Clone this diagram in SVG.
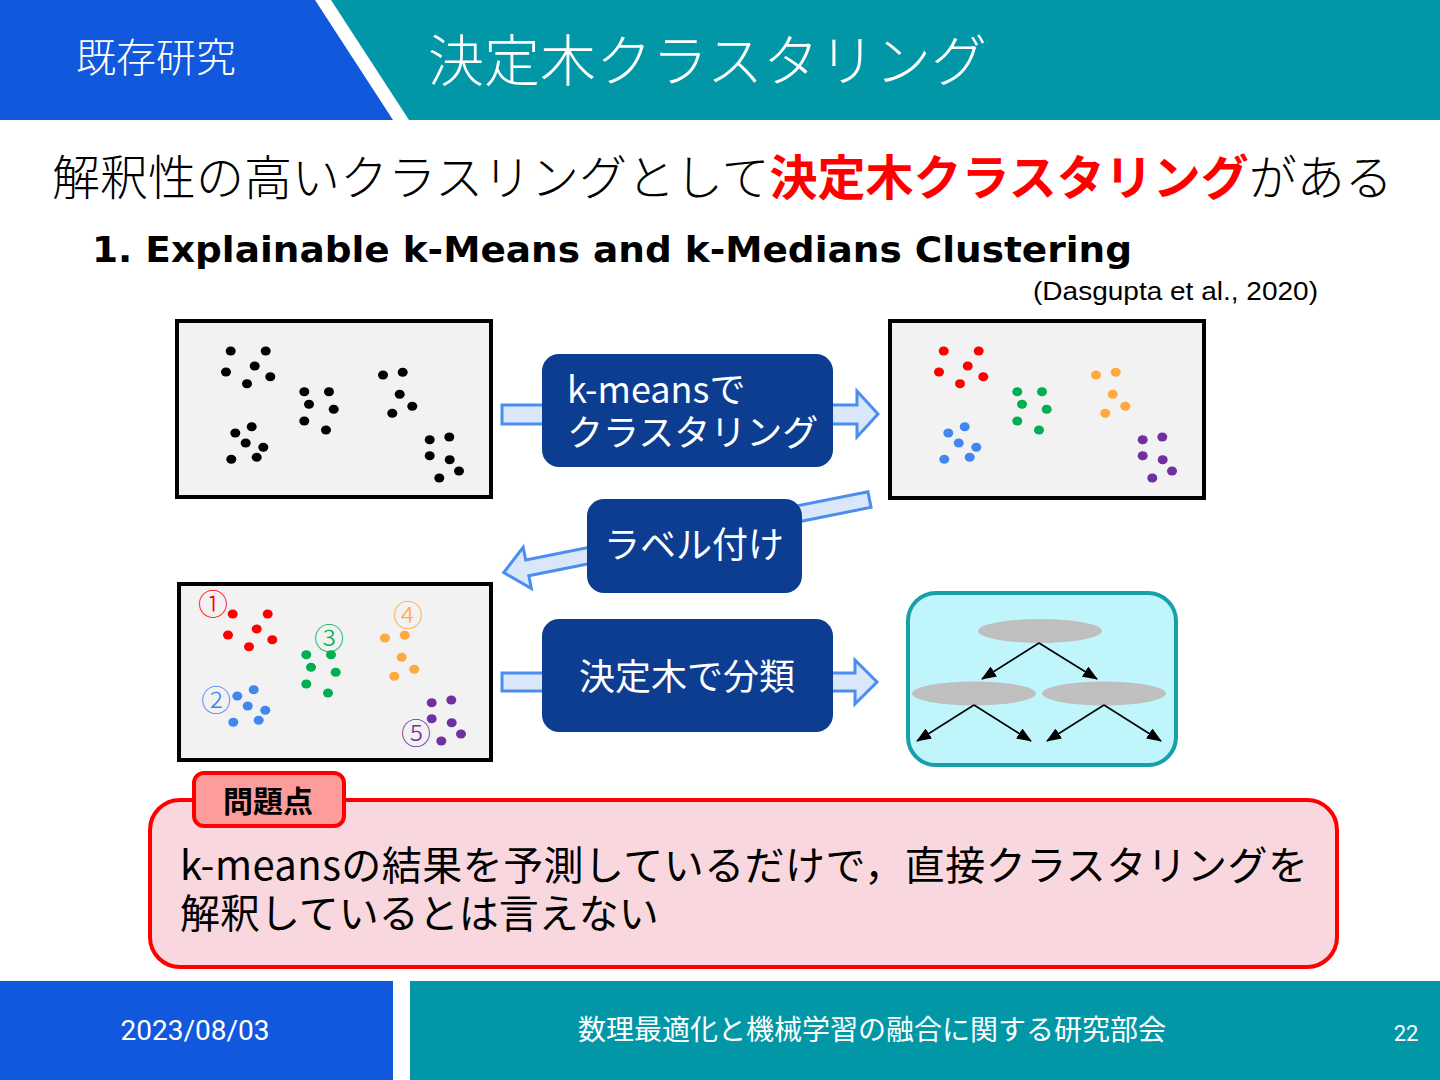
<svg xmlns="http://www.w3.org/2000/svg" width="1440" height="1080" viewBox="0 0 1440 1080">
<defs>
<style>
.jp{font-family:"Noto Sans CJK JP","Noto Sans",sans-serif;}
.w{fill:#ffffff;}
.box{fill:#f2f2f2;stroke:#000;stroke-width:4;}
.node{fill:#0c3d91;}
.barrow{fill:#dae7fb;stroke:#4a8ef0;stroke-width:3;stroke-linejoin:miter;}
.k{fill:#000;}
.r{fill:#ff0000;}
.g{fill:#00b050;}
.b{fill:#4287f0;}
.o{fill:#ffa940;}
.p{fill:#7030a0;}
.ell{fill:#bfbfbf;}
.edge{stroke:#000;stroke-width:1.6;fill:none;marker-end:url(#tri);}
</style>
<marker id="tri" markerUnits="userSpaceOnUse" markerWidth="15" markerHeight="12" refX="14" refY="6" orient="auto">
<path d="M0,0 L15,6 L0,12 z" fill="#000"/>
</marker>
</defs>
<rect width="1440" height="1080" fill="#ffffff"/>

<!-- header -->
<g id="header">
<polygon points="0,0 315,0 393,120 0,120" fill="#1158dc"/>
<polygon points="331,0 1440,0 1440,120 409,120" fill="#0197a7"/>
<text class="jp w" x="156" y="72" font-size="40" font-weight="300" text-anchor="middle">既存研究</text>
<text class="jp w" x="428" y="81" font-size="56" font-weight="300">決定木クラスタリング</text>
</g>

<g id="headline">
<text class="jp" x="52" y="195" font-size="48" font-weight="300" fill="#000">解釈性の高いクラスリングとして<tspan fill="#ff0000" font-weight="700">決定木クラスタリング</tspan>がある</text>
<text x="92" y="262" font-family="DejaVu Sans, sans-serif" font-weight="700" font-size="36" textLength="1040" lengthAdjust="spacingAndGlyphs" fill="#000">1. Explainable k-Means and k-Medians Clustering</text>
<text x="1033" y="300" font-family="Liberation Sans, Arial, sans-serif" font-size="26" textLength="285" lengthAdjust="spacingAndGlyphs" fill="#000">(Dasgupta et al., 2020)</text>
</g>

<!-- connectors -->
<g id="connectors">
<polygon class="barrow" points="502,405 857,405 857,391 878,414 857,437 857,424 502,424"/>
<polygon class="barrow" transform="translate(869.5,499.5) rotate(168.7)" points="0,-8 349,-8 349,-21 373,0 349,21 349,8 0,8"/>
<polygon class="barrow" points="502,673 855,673 855,660 877,682 855,704 855,691 502,691"/>
</g>

<!-- box 1: raw data -->
<g id="data-raw">
<rect class="box" x="177" y="321" width="314" height="176"/>
<g class="k">
<ellipse cx="230.7" cy="351" rx="5" ry="4.5"/><ellipse cx="265.7" cy="351" rx="5" ry="4.5"/><ellipse cx="226" cy="372" rx="5" ry="4.5"/><ellipse cx="254.7" cy="366" rx="5" ry="4.5"/><ellipse cx="270.3" cy="376.7" rx="5" ry="4.5"/><ellipse cx="247" cy="383.7" rx="5" ry="4.5"/>
<ellipse cx="304.3" cy="391.7" rx="5" ry="4.5"/><ellipse cx="329" cy="391.7" rx="5" ry="4.5"/><ellipse cx="309" cy="404.3" rx="5" ry="4.5"/><ellipse cx="333.7" cy="409.3" rx="5" ry="4.5"/><ellipse cx="304.3" cy="421" rx="5" ry="4.5"/><ellipse cx="326" cy="430" rx="5" ry="4.5"/>
<ellipse cx="383" cy="375" rx="5" ry="4.5"/><ellipse cx="402.7" cy="372.3" rx="5" ry="4.5"/><ellipse cx="399.7" cy="394.3" rx="5" ry="4.5"/><ellipse cx="412.3" cy="406.3" rx="5" ry="4.5"/><ellipse cx="392.3" cy="413.3" rx="5" ry="4.5"/>
<ellipse cx="251.7" cy="426.7" rx="5" ry="4.5"/><ellipse cx="235.3" cy="433" rx="5" ry="4.5"/><ellipse cx="245.7" cy="443" rx="5" ry="4.5"/><ellipse cx="263.3" cy="447.3" rx="5" ry="4.5"/><ellipse cx="231.3" cy="459.3" rx="5" ry="4.5"/><ellipse cx="256.7" cy="457.3" rx="5" ry="4.5"/>
<ellipse cx="429.7" cy="439.7" rx="5" ry="4.5"/><ellipse cx="449.3" cy="437" rx="5" ry="4.5"/><ellipse cx="429.7" cy="455.7" rx="5" ry="4.5"/><ellipse cx="449.7" cy="459.7" rx="5" ry="4.5"/><ellipse cx="459" cy="471" rx="5" ry="4.5"/><ellipse cx="439.3" cy="478" rx="5" ry="4.5"/>
</g>
</g>

<!-- box 2: clustered -->
<g id="data-clustered">
<rect class="box" x="890" y="321" width="314" height="177"/>
<g transform="translate(713,0)">
<g class="r"><ellipse cx="230.7" cy="351" rx="5" ry="4.5"/><ellipse cx="265.7" cy="351" rx="5" ry="4.5"/><ellipse cx="226" cy="372" rx="5" ry="4.5"/><ellipse cx="254.7" cy="366" rx="5" ry="4.5"/><ellipse cx="270.3" cy="376.7" rx="5" ry="4.5"/><ellipse cx="247" cy="383.7" rx="5" ry="4.5"/></g>
<g class="g"><ellipse cx="304.3" cy="391.7" rx="5" ry="4.5"/><ellipse cx="329" cy="391.7" rx="5" ry="4.5"/><ellipse cx="309" cy="404.3" rx="5" ry="4.5"/><ellipse cx="333.7" cy="409.3" rx="5" ry="4.5"/><ellipse cx="304.3" cy="421" rx="5" ry="4.5"/><ellipse cx="326" cy="430" rx="5" ry="4.5"/></g>
<g class="o"><ellipse cx="383" cy="375" rx="5" ry="4.5"/><ellipse cx="402.7" cy="372.3" rx="5" ry="4.5"/><ellipse cx="399.7" cy="394.3" rx="5" ry="4.5"/><ellipse cx="412.3" cy="406.3" rx="5" ry="4.5"/><ellipse cx="392.3" cy="413.3" rx="5" ry="4.5"/></g>
<g class="b"><ellipse cx="251.7" cy="426.7" rx="5" ry="4.5"/><ellipse cx="235.3" cy="433" rx="5" ry="4.5"/><ellipse cx="245.7" cy="443" rx="5" ry="4.5"/><ellipse cx="263.3" cy="447.3" rx="5" ry="4.5"/><ellipse cx="231.3" cy="459.3" rx="5" ry="4.5"/><ellipse cx="256.7" cy="457.3" rx="5" ry="4.5"/></g>
<g class="p"><ellipse cx="429.7" cy="439.7" rx="5" ry="4.5"/><ellipse cx="449.3" cy="437" rx="5" ry="4.5"/><ellipse cx="429.7" cy="455.7" rx="5" ry="4.5"/><ellipse cx="449.7" cy="459.7" rx="5" ry="4.5"/><ellipse cx="459" cy="471" rx="5" ry="4.5"/><ellipse cx="439.3" cy="478" rx="5" ry="4.5"/></g>
</g>
</g>

<!-- box 3: labelled -->
<g id="data-labelled">
<rect class="box" x="179" y="584" width="312" height="176"/>
<g transform="translate(2,263)">
<g class="r"><ellipse cx="230.7" cy="351" rx="5" ry="4.5"/><ellipse cx="265.7" cy="351" rx="5" ry="4.5"/><ellipse cx="226" cy="372" rx="5" ry="4.5"/><ellipse cx="254.7" cy="366" rx="5" ry="4.5"/><ellipse cx="270.3" cy="376.7" rx="5" ry="4.5"/><ellipse cx="247" cy="383.7" rx="5" ry="4.5"/></g>
<g class="g"><ellipse cx="304.3" cy="391.7" rx="5" ry="4.5"/><ellipse cx="329" cy="391.7" rx="5" ry="4.5"/><ellipse cx="309" cy="404.3" rx="5" ry="4.5"/><ellipse cx="333.7" cy="409.3" rx="5" ry="4.5"/><ellipse cx="304.3" cy="421" rx="5" ry="4.5"/><ellipse cx="326" cy="430" rx="5" ry="4.5"/></g>
<g class="o"><ellipse cx="383" cy="375" rx="5" ry="4.5"/><ellipse cx="402.7" cy="372.3" rx="5" ry="4.5"/><ellipse cx="399.7" cy="394.3" rx="5" ry="4.5"/><ellipse cx="412.3" cy="406.3" rx="5" ry="4.5"/><ellipse cx="392.3" cy="413.3" rx="5" ry="4.5"/></g>
<g class="b"><ellipse cx="251.7" cy="426.7" rx="5" ry="4.5"/><ellipse cx="235.3" cy="433" rx="5" ry="4.5"/><ellipse cx="245.7" cy="443" rx="5" ry="4.5"/><ellipse cx="263.3" cy="447.3" rx="5" ry="4.5"/><ellipse cx="231.3" cy="459.3" rx="5" ry="4.5"/><ellipse cx="256.7" cy="457.3" rx="5" ry="4.5"/></g>
<g class="p"><ellipse cx="429.7" cy="439.7" rx="5" ry="4.5"/><ellipse cx="449.3" cy="437" rx="5" ry="4.5"/><ellipse cx="429.7" cy="455.7" rx="5" ry="4.5"/><ellipse cx="449.7" cy="459.7" rx="5" ry="4.5"/><ellipse cx="459" cy="471" rx="5" ry="4.5"/><ellipse cx="439.3" cy="478" rx="5" ry="4.5"/></g>
</g>
<g class="jp" font-size="30" font-weight="300" text-anchor="middle">
<text class="r" x="213" y="615">①</text>
<text class="b" x="216" y="711">②</text>
<text class="g" x="329" y="649">③</text>
<text class="o" x="408" y="626">④</text>
<text class="p" x="416" y="744">⑤</text>
</g>
</g>

<!-- tree -->
<g id="tree">
<rect x="908" y="593" width="268" height="172" rx="28" fill="#c0f5fc" stroke="#17a0aa" stroke-width="4"/>
<ellipse class="ell" cx="1040" cy="631" rx="62" ry="12"/>
<ellipse class="ell" cx="974" cy="693.5" rx="62" ry="12"/>
<ellipse class="ell" cx="1104" cy="693.5" rx="62" ry="12"/>
<line class="edge" x1="1039" y1="643" x2="982" y2="679"/>
<line class="edge" x1="1039" y1="643" x2="1097" y2="679"/>
<line class="edge" x1="974" y1="705" x2="917" y2="741"/>
<line class="edge" x1="974" y1="705" x2="1031" y2="741"/>
<line class="edge" x1="1104" y1="705" x2="1047" y2="741"/>
<line class="edge" x1="1104" y1="705" x2="1161" y2="741"/>
</g>

<!-- process nodes -->
<g id="node-kmeans">
<rect class="node" x="542" y="354" width="291" height="113" rx="17"/>
<text class="jp w" font-size="36"><tspan x="567" y="403">k-meansで</tspan><tspan x="567" y="446">クラスタリング</tspan></text>
</g>
<g id="node-label">
<rect class="node" x="587" y="499" width="215" height="94" rx="17"/>
<text class="jp w" x="694" y="558" font-size="36" text-anchor="middle">ラベル付け</text>
</g>
<g id="node-tree">
<rect class="node" x="542" y="619" width="291" height="113" rx="17"/>
<text class="jp w" x="687" y="690" font-size="36" text-anchor="middle">決定木で分類</text>
</g>

<!-- problem -->
<g id="problem">
<rect x="150" y="800" width="1187" height="167" rx="30" fill="#f8d8de" stroke="#ff0000" stroke-width="4"/>
<rect x="194" y="773" width="150" height="53" rx="10" fill="#fe9c9c" stroke="#ff0000" stroke-width="4"/>
<text class="jp" x="268" y="812" font-size="30" font-weight="700" text-anchor="middle" fill="#000">問題点</text>
<text class="jp" font-size="40" fill="#000"><tspan x="180" y="880" textLength="1128">k-meansの結果を予測しているだけで，直接クラスタリングを</tspan><tspan x="180" y="928">解釈しているとは言えない</tspan></text>
</g>

<!-- footer -->
<g id="footer">
<rect x="0" y="981" width="393" height="99" fill="#1158dc"/>
<rect x="410" y="981" width="1030" height="99" fill="#0197a7"/>
<text x="195" y="1040" font-family="Roboto, Liberation Sans, sans-serif" font-size="28" fill="#fff" text-anchor="middle">2023/08/03</text>
<text class="jp w" x="872" y="1040" font-size="28" text-anchor="middle">数理最適化と機械学習の融合に関する研究部会</text>
<text x="1406" y="1041" font-family="Roboto, Liberation Sans, sans-serif" font-size="22" fill="#fff" text-anchor="middle">22</text>
</g>
</svg>
